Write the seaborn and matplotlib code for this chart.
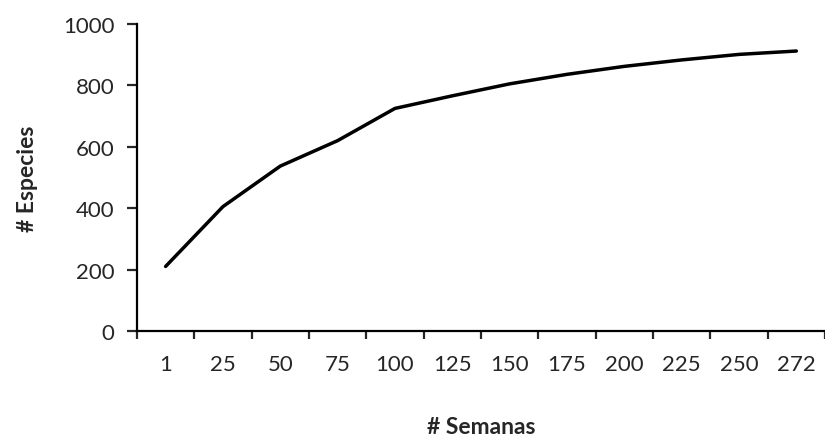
import numpy as np
import pandas as pd
import seaborn as sns
import matplotlib.pyplot as plt
from matplotlib.ticker import FixedLocator

semanas = ['1', '25', '50', '75', '100', '125', '150', '175', '200', '225', '250', '272']
especies = [210, 405, 537, 620, 725, 766, 805, 836, 862, 883, 901, 912]

data = pd.DataFrame({'Semanas': semanas, 'Especies': especies})

sns.set_style('white')
plt.rcParams['font.family'] = ['Lato', 'DejaVu Sans']

fig = plt.figure(figsize=(8.25, 4.39), dpi=100)
ax = fig.add_axes([0.166, 0.244, 0.834, 0.699])

sns.lineplot(data=data, x='Semanas', y='Especies', ax=ax, color='black', linewidth=2.5, sort=False)

ax.set_ylim(0, 1000)
ax.set_yticks([0, 200, 400, 600, 800, 1000])
ax.set_xlim(-0.5, len(semanas) - 0.5)
ax.set_xticks(range(len(semanas)))
ax.set_xticklabels(semanas)
ax.xaxis.set_minor_locator(FixedLocator(np.arange(-0.5, len(semanas), 1.0)))

ax.tick_params(axis='x', which='major', length=0, pad=17, labelsize=16)
ax.tick_params(axis='x', which='minor', length=6, width=1.6, direction='out', bottom=True)
ax.tick_params(axis='y', length=7, width=1.6, direction='out', left=True, pad=9, labelsize=16)

for side in ['top', 'right']:
    ax.spines[side].set_visible(False)
for side in ['left', 'bottom']:
    ax.spines[side].set_color('black')
    ax.spines[side].set_linewidth(1.6)

ax.set_xlabel('# Semanas', fontsize=16.5, fontweight='bold', labelpad=30)
ax.set_ylabel('# Especies', fontsize=16.5, fontweight='bold', labelpad=18)

fig.savefig('out.png', dpi=100)
